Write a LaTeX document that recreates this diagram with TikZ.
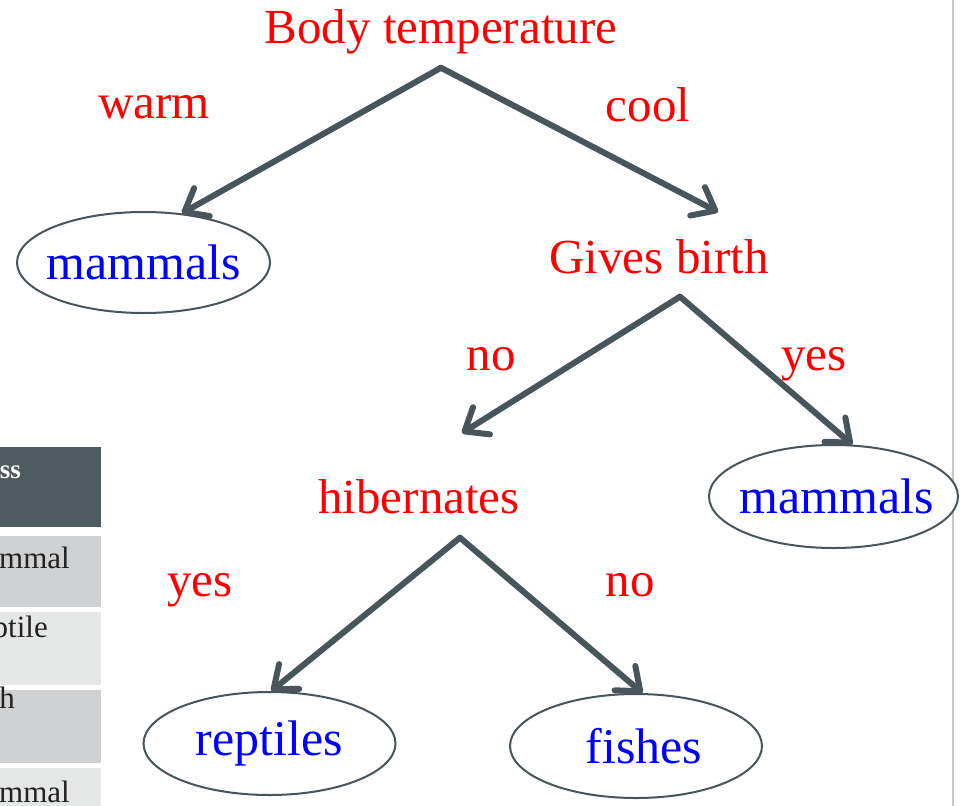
\documentclass[tikz,border=0pt]{standalone}
\usepackage{fontspec}
\setmainfont{Liberation Serif}
\usetikzlibrary{shapes.geometric,arrows.meta}
\definecolor{slate}{HTML}{48555B}
\definecolor{headbg}{HTML}{4D5A60}
\definecolor{rowdark}{HTML}{D0D1D3}
\definecolor{rowlight}{HTML}{E6E7E7}
\definecolor{celltext}{HTML}{222222}
\definecolor{rule}{HTML}{C9C9C1}
\newcommand{\leaftext}[1]{\makebox[0pt]{#1}}
\begin{document}
\begin{tikzpicture}[x=1pt,y=-1pt,
	cond/.style={text=red,font=\fontsize{49}{55}\selectfont,anchor=base,inner sep=0pt},
	leaf/.style={ellipse,draw=slate,line width=2pt,fill=white,text=blue,font=\fontsize{50}{55}\selectfont,inner sep=0pt,minimum width=252pt,minimum height=102pt},
	arr/.style={draw=slate,line width=6pt,line cap=round,line join=round,-{Straight Barb[length=20pt,width=32pt,line cap=round,line join=round]}},
	cell/.style={font=\fontsize{31}{35}\selectfont,text=celltext,anchor=base east,inner sep=0pt}]
	\useasboundingbox (0,0) rectangle (967,806);
	\fill[white] (0,0) rectangle (967,806);
	% table cut at the left edge
	\begin{scope}
		\clip (0,440) rectangle (101,806);
		\fill[headbg] (-10,447) rectangle (101,527);
		\fill[rowdark] (-10,536) rectangle (101,607);
		\fill[rowlight] (-10,612) rectangle (101,685);
		\fill[rowdark] (-10,690) rectangle (101,763);
		\fill[rowlight] (-10,768) rectangle (101,816);
		\node[cell,text=white,font=\fontsize{27}{30}\selectfont\bfseries] (hd) at (21,478) {Class};
		\node[cell] (r1) at (70,568) {mammal};
		\node[cell] (r2) at (48,637) {reptile};
		\node[cell] (r3) at (15,708) {fish};
		\node[cell] (r4) at (70,802) {mammal};
	\end{scope}
	\draw[rule,line width=2pt] (952.5,0) -- (952.5,806);
	% tree
	\node[cond] (bt) at (441,43) {Body temperature};
	\node[cond] (gb) at (659,273) {Gives birth};
	\node[cond] (hb) at (419,513) {hibernates};
	\node[leaf,minimum width=253pt,minimum height=101pt] (mamL) at (143.5,262.5) {\leaftext{mammals}};
	\node[leaf,minimum width=249pt,minimum height=103pt] (mamR) at (833.5,496.5) {\leaftext{\hspace{6pt}mammals}};
	\node[leaf,minimum height=103pt] (rep) at (269.5,743.5) {\leaftext{reptiles}};
	\node[leaf,minimum height=104pt] (fish) at (636,746) {\leaftext{\hspace{16pt}fishes}};
	\coordinate (gb-in) at (718,212);
	\coordinate (hb-in) at (462,433);
	\draw[arr] ([yshift=-14pt]bt.south) -- (mamL.52);
	\draw[arr] ([yshift=-14pt]bt.south) -- (gb-in);
	\draw[arr] ([xshift=21pt,yshift=-23pt]gb.south) -- (hb-in);
	\draw[arr] ([xshift=21pt,yshift=-23pt]gb.south) -- (mamR.70);
	\draw[arr] ([xshift=41pt,yshift=-24pt]hb.south) -- (rep.88);
	\draw[arr] ([xshift=41pt,yshift=-24pt]hb.south) -- (fish.83);
	\node[cond] (warm) at (154,118) {warm};
	\node[cond] (cool) at (648,121) {cool};
	\node[cond] (no1) at (491,370) {no};
	\node[cond] (yes1) at (814,370) {yes};
	\node[cond] (yes2) at (200,596) {yes};
	\node[cond] (no2) at (630,596) {no};
\end{tikzpicture}
\end{document}
